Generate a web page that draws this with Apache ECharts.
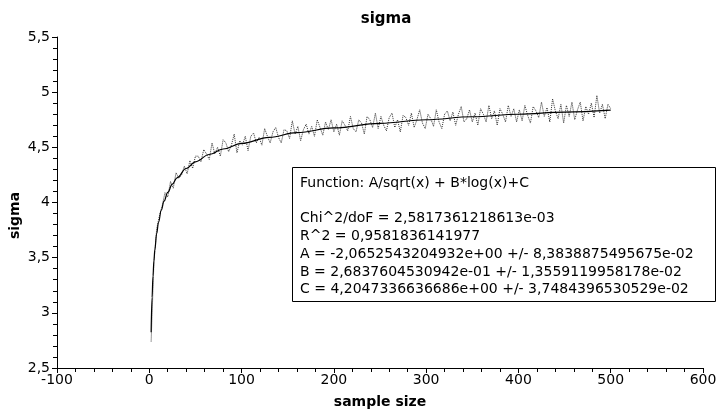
<!DOCTYPE html>
<html>
<head>
<meta charset="utf-8">
<script src="https://cdn.jsdelivr.net/npm/echarts@6/dist/echarts.min.js"></script>
<style>html,body{margin:0;padding:0;background:#fff}#c{width:719px;height:411px}</style>
</head>
<body>
<div id="c"></div>
<script>
// Measured samples (sample size -> sigma)
const sampleX = [2,5,8,11,14,17,20,23,26,29,32,35,38,41,44,47,50,
53,56,59,62,65,68,71,74,77,80,83,86,89,92,95,98,101,104,107,110,113,116,119,122,125,128,131,134,137,140,143,146,149,152,155,158,161,164,167,170,173,176,179,182,185,188,191,194,197,200,
203,206,209,212,215,218,221,224,227,230,233,236,239,242,245,248,
251,254,257,260,263,266,269,272,275,278,281,284,287,290,293,296,299,
302,305,308,311,314,317,320,323,326,329,332,335,338,341,344,347,350,
353,356,359,362,365,368,371,374,377,380,383,386,389,392,395,398,
401,404,407,410,413,416,419,422,425,428,431,434,437,440,443,446,449,
452,455,458,461,464,467,470,473,476,479,482,485,488,491,494,497,500];
const sampleY = [2.74,3.45,3.76,3.88,3.97,4.09,4.05,4.19,4.13,4.27,4.22,4.25,4.33,4.26,4.38,4.31,4.42,
4.42,4.37,4.48,4.44,4.39,4.54,4.44,4.50,4.42,4.57,4.54,4.46,4.52,4.62,4.45,4.56,4.52,4.60,4.47,4.60,4.63,4.54,4.59,4.52,4.67,4.60,4.54,4.64,4.68,4.59,4.54,4.66,4.65,4.58,4.74,4.62,4.69,4.56,4.66,4.71,4.62,4.69,4.60,4.75,4.68,4.61,4.73,4.66,4.75,4.64,
4.71,4.61,4.74,4.70,4.65,4.78,4.67,4.64,4.75,4.72,4.62,4.78,4.75,4.68,4.81,4.67,
4.78,4.70,4.65,4.77,4.81,4.68,4.75,4.64,4.79,4.77,4.70,4.81,4.68,4.75,4.84,4.72,4.67,
4.80,4.76,4.69,4.84,4.73,4.67,4.80,4.83,4.74,4.82,4.70,4.80,4.87,4.73,4.76,4.84,4.73,
4.81,4.70,4.85,4.80,4.73,4.88,4.76,4.83,4.70,4.85,4.80,4.73,4.88,4.78,4.85,4.73,
4.84,4.74,4.88,4.79,4.72,4.87,4.83,4.77,4.91,4.78,4.86,4.73,4.94,4.83,4.76,4.89,4.72,
4.88,4.78,4.91,4.75,4.84,4.91,4.74,4.87,4.80,4.90,4.77,4.97,4.81,4.89,4.76,4.89,4.85];

// Fitted curve
const fitX = [2,3,4,5,6,8,10,13,16,20,25,30,40,50,65,80,100,130,160,200,250,300,350,400,450,500];
const fitY = [2.825,3.140,3.334,3.469,3.570,3.717,3.820,3.931,4.012,4.092,4.167,4.224,4.308,4.369,4.435,4.485,4.535,4.591,4.633,4.676,4.718,4.750,4.777,4.800,4.819,4.837];

const xTicks = {min: -100, max: 600, step: 100};
const yTicks = {min: 2.5, max: 5.5, step: 0.5};

const titleText = 'sigma';
const xName = 'sample size';
const yName = 'sigma';
const fitLines = [
  'Function: A/sqrt(x) + B*log(x)+C',
  '',
  'Chi^2/doF = 2,5817361218613e-03',
  'R^2 = 0,9581836141977',
  'A = -2,0652543204932e+00 +/- 8,3838875495675e-02',
  'B = 2,6837604530942e-01 +/- 1,3559119958178e-02',
  'C = 4,2047336636686e+00 +/- 3,7484396530529e-02'
];

const FONT = 'DejaVu Sans';
const fmt = v => String(v).replace('.', ',');

const chart = echarts.init(document.getElementById('c'), null, {renderer: 'canvas'});
const axisCommon = {
  axisLine: {show: true, onZero: false, lineStyle: {color: '#000', width: 1}},
  axisTick: {show: true, length: 5, lineStyle: {color: '#000'}},
  minorTick: {show: true, splitNumber: 5, length: 4, lineStyle: {color: '#000'}},
  splitLine: {show: false},
  minorSplitLine: {show: false},
  axisLabel: {color: '#000', fontFamily: FONT, fontSize: 14, formatter: fmt},
  nameTextStyle: {color: '#000', fontFamily: FONT, fontSize: 14, fontWeight: 'bold'}
};
chart.setOption({
  animation: false,
  backgroundColor: '#fff',
  title: {text: titleText, left: 381, top: 7, textAlign: 'center',
    textStyle: {fontFamily: FONT, fontSize: 15, fontWeight: 'bold', color: '#000'}},
  grid: {left: 57, right: 16, top: 37, bottom: 43, containLabel: false, outerBoundsMode: 'none'},
  xAxis: Object.assign({}, axisCommon, {
    type: 'value', min: xTicks.min, max: xTicks.max, interval: xTicks.step,
    name: xName, nameLocation: 'middle', nameGap: 27, nameMoveOverlap: false,
    axisLabel: Object.assign({}, axisCommon.axisLabel, {margin: 5})
  }),
  yAxis: Object.assign({}, axisCommon, {
    type: 'value', min: yTicks.min, max: yTicks.max, interval: yTicks.step,
    name: yName, nameLocation: 'middle', nameGap: 35, nameMoveOverlap: false,
    nameTextStyle: Object.assign({}, axisCommon.nameTextStyle, {padding: [0, 26, 0, 0]}),
    axisLabel: Object.assign({}, axisCommon.axisLabel, {margin: 7})
  }),
  series: [
    {
      type: 'line', name: 'data', symbol: 'none',
      data: sampleX.map((x, i) => [x, sampleY[i]]),
      lineStyle: {color: '#333', width: 1, type: [1, 1]},
      z: 2
    },
    {
      type: 'line', name: 'fit', symbol: 'none', smooth: 0.4, smoothMonotone: 'x',
      data: fitX.map((x, i) => [x, fitY[i]]),
      lineStyle: {color: '#000', width: 1.2},
      z: 3
    }
  ],
  graphic: [
    {type: 'rect', left: 292, top: 167, shape: {width: 423, height: 134},
     style: {fill: '#fff', stroke: '#000', lineWidth: 1}, z: 10},
    {type: 'text', left: 300, top: 174, z: 11,
     style: {text: fitLines.join('\n'), fontFamily: FONT, fontSize: 14, lineHeight: 17.8, fill: '#000'}}
  ]
});
</script>
</body>
</html>
